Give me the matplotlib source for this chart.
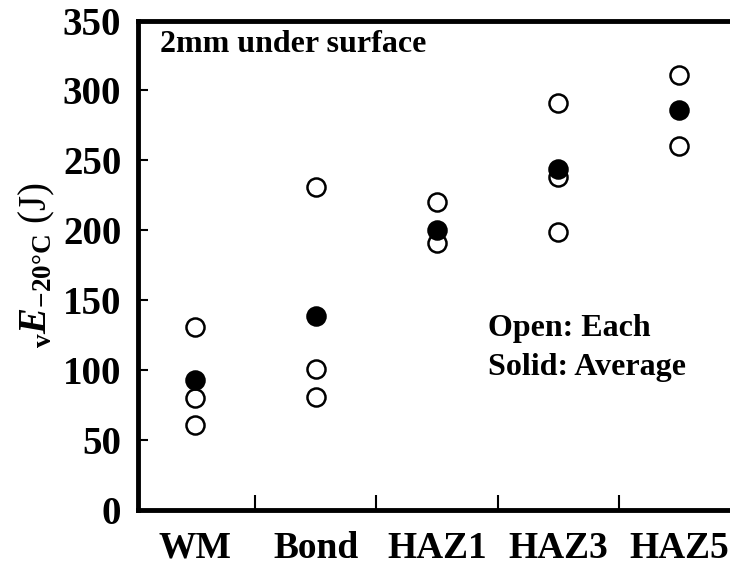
import matplotlib

matplotlib.use('Agg')
import matplotlib.pyplot as plt
from matplotlib.ticker import FixedLocator

plt.rcParams['font.family'] = 'Liberation Serif'
plt.rcParams['font.weight'] = 'bold'
plt.rcParams['mathtext.fontset'] = 'custom'
plt.rcParams['mathtext.rm'] = 'Liberation Serif:bold'
plt.rcParams['mathtext.it'] = 'Liberation Serif:italic:bold'
plt.rcParams['mathtext.bf'] = 'Liberation Serif:bold'

categories = ['WM', 'Bond', 'HAZ1', 'HAZ3', 'HAZ5']
# individual test values (open circles)
each_x = [0, 0, 0, 1, 1, 1, 2, 2, 3, 3, 3, 4, 4]
each_vals = [131, 80, 61, 231, 101, 81, 220, 191, 291, 238, 199, 311, 260]
# averages (solid circles)
avg_vals = [93, 139, 200, 244, 286]

fig = plt.figure(figsize=(7.3, 5.65), dpi=100)
ax = fig.add_axes([0.189, 0.0973, 0.811, 0.8664])

ax.plot(each_x, each_vals, 'o', ms=13, mfc='white', mec='black', mew=1.8, ls='none', zorder=3)
ax.plot(range(len(categories)), avg_vals, 'o', ms=13, mfc='black', mec='black', mew=1.8, ls='none', zorder=4)

ax.set_xlim(-0.47, 4.42)
ax.set_ylim(0, 350)
ax.set_yticks(range(0, 351, 50))
ax.set_xticks(range(len(categories)))
ax.set_xticklabels(categories)
ax.xaxis.set_minor_locator(FixedLocator([0.5, 1.5, 2.5, 3.5]))

ax.tick_params(axis='y', direction='in', length=7, width=1.5, labelsize=28, pad=12)
ax.tick_params(axis='x', which='major', length=0, labelsize=27, pad=15)
ax.tick_params(axis='x', which='minor', direction='in', length=11, width=1.5)

for side in ['left', 'bottom', 'top']:
    ax.spines[side].set_linewidth(3.5)
ax.spines['right'].set_visible(False)

ax.set_ylabel(r'$_{\mathrm{v}}\mathit{E}_{\mathrm{-20°C}}$ (J)', fontsize=28, labelpad=4)

ax.text(-0.29, 333, '2mm under surface', fontsize=23, va='center', ha='left')
ax.text(2.42, 129.5, 'Open: Each', fontsize=23, va='center', ha='left')
ax.text(2.42, 102, 'Solid: Average', fontsize=23, va='center', ha='left')

fig.savefig('out.png', dpi=100)
